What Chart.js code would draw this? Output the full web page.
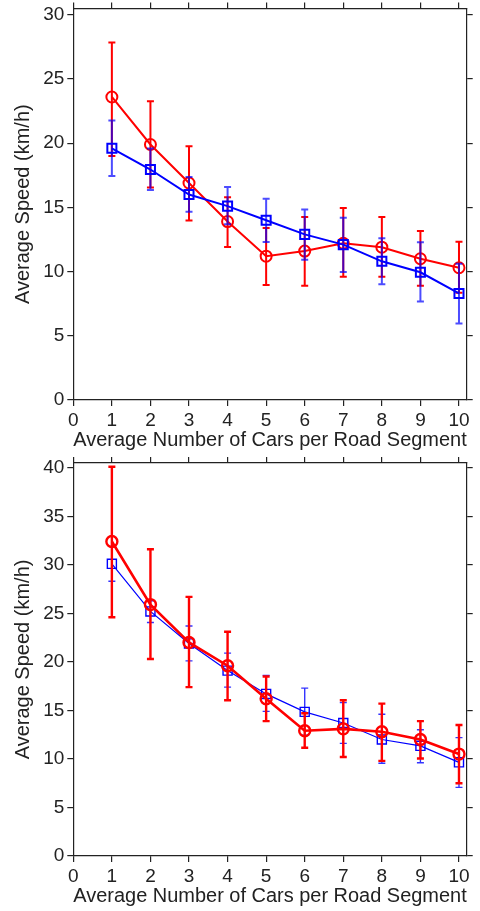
<!DOCTYPE html>
<html>
<head>
<meta charset="utf-8">
<script src="https://cdn.jsdelivr.net/npm/chart.js@4.4.1/dist/chart.umd.min.js"></script>
<style>
    body { margin: 0; background: #fff; }
    canvas { display: block; }
</style>
</head>
<body>
<canvas id="topChart" width="480" height="455"></canvas>
<canvas id="bottomChart" width="480" height="456"></canvas>
<script>
// values
const carsPerSegment = [1, 2, 3, 4, 5, 6, 7, 8, 9, 10];
const xTicks = [0, 1, 2, 3, 4, 5, 6, 7, 8, 9, 10];

// upper panel
const topRedSpeed = [23.6, 19.9, 16.9, 13.9, 11.2, 11.6, 12.2, 11.9, 11.0, 10.3];
const topRedHigh = [27.85, 23.26, 19.77, 15.8, 13.39, 14.25, 14.95, 14.25, 13.16, 12.33];
const topRedLow = [19.0, 16.55, 13.99, 11.92, 8.96, 8.89, 9.59, 9.59, 8.89, 8.35];
const topBlueSpeed = [19.6, 17.95, 16.0, 15.1, 14.0, 12.9, 12.1, 10.8, 9.95, 8.3];
const topBlueHigh = [21.76, 19.59, 17.36, 16.58, 15.67, 14.84, 14.2, 12.59, 12.28, 10.62];
const topBlueLow = [17.44, 16.35, 14.66, 13.68, 12.31, 10.93, 9.97, 9.02, 7.67, 5.96];
const topYTicks = [0, 5, 10, 15, 20, 25, 30];

// lower panel
const bottomRedSpeed = [32.4, 25.9, 22.0, 19.6, 16.2, 12.9, 13.1, 12.8, 12.0, 10.5];
const bottomRedHigh = [40.1, 31.6, 26.7, 23.1, 18.5, 14.7, 16.05, 15.7, 13.9, 13.5];
const bottomRedLow = [24.6, 20.3, 17.4, 16.05, 13.9, 11.15, 10.2, 9.8, 10.05, 7.5];
const bottomBlueSpeed = [30.1, 25.2, 21.9, 19.1, 16.7, 14.85, 13.7, 12.0, 11.35, 9.65];
const bottomBlueHigh = [31.9, 26.3, 23.7, 20.9, 18.6, 17.3, 15.8, 14.6, 13.0, 12.2];
const bottomBlueLow = [28.3, 24.05, 20.1, 17.4, 14.9, 12.45, 11.6, 9.55, 9.6, 7.07];
const bottomYTicks = [0, 5, 10, 15, 20, 25, 30, 35, 40];

const INK = "#222";
const RED = "#ff0000";
const BLUE = "#0000ff";

function points(values) {
    return carsPerSegment.map((x, i) => ({ x, y: values[i] }));
}

// draws vertical error bars with caps just before each dataset
const errorBarPlugin = {
    id: "errorBars",
    beforeDatasetDraw(chart, args) {
        const ds = chart.data.datasets[args.index];
        if (!ds.errLow) return;
        const { ctx, scales } = chart;
        const cap = 3.5;
        ctx.save();
        ctx.strokeStyle = ds.errColor;
        ctx.lineWidth = ds.errWidth;
        ds.data.forEach((pt, i) => {
            const px = scales.x.getPixelForValue(pt.x);
            const top = scales.y.getPixelForValue(ds.errHigh[i]);
            const bottom = scales.y.getPixelForValue(ds.errLow[i]);
            ctx.beginPath();
            ctx.moveTo(px, top);
            ctx.lineTo(px, bottom);
            ctx.moveTo(px - cap, top);
            ctx.lineTo(px + cap, top);
            ctx.moveTo(px - cap, bottom);
            ctx.lineTo(px + cap, bottom);
            ctx.stroke();
        });
        ctx.restore();
    },
};

function onlyTicks(list) {
    return (scale) => {
        scale.ticks = list.map((v) => ({ value: v }));
    };
}

// fixed box size, and no extra room for labels hanging past the ends
function fixSize(prop, size) {
    return (s) => {
        s[prop] = size;
        s.paddingTop = 0;
        s.paddingBottom = 0;
        s.paddingLeft = 0;
        s.paddingRight = 0;
    };
}

function frameAxis(position, extra) {
    return Object.assign(
        {
            type: "linear",
            position,
            border: { display: true, color: INK, width: 1.2 },
            grid: {
                drawOnChartArea: false,
                drawTicks: true,
                tickLength: 6,
                color: INK,
                lineWidth: 1.2,
            },
        },
        extra
    );
}

function makeChart(canvasId, yMax, yTicks, datasets) {
    const ctx = document.getElementById(canvasId).getContext("2d");
    const tickFont = { family: "Liberation Sans, Arial, sans-serif", size: 19 };
    const titleFont = { family: "Liberation Sans, Arial, sans-serif", size: 20 };

    return new Chart(ctx, {
        type: "line",
        data: { datasets },
        plugins: [errorBarPlugin],
        options: {
            responsive: false,
            animation: false,
            events: [],
            layout: { padding: { top: 7, left: 0, right: 0, bottom: 0 } },
            plugins: {
                legend: { display: false },
                tooltip: { enabled: false },
            },
            scales: {
                x: frameAxis("bottom", {
                    min: 0,
                    max: 10.2,
                    afterBuildTicks: onlyTicks(xTicks),
                    afterFit: fixSize("height", 55),
                    ticks: { color: INK, font: tickFont, padding: 3, maxRotation: 0 },
                    title: {
                        display: true,
                        text: "Average Number of Cars per Road Segment",
                        color: INK,
                        font: titleFont,
                        padding: { top: 0, bottom: 3 },
                    },
                }),
                x2: frameAxis("top", {
                    min: 0,
                    max: 10.2,
                    afterBuildTicks: onlyTicks(xTicks),
                    afterFit: fixSize("height", 0),
                    ticks: { display: false },
                }),
                y: frameAxis("left", {
                    min: 0,
                    max: yMax,
                    afterBuildTicks: onlyTicks(yTicks),
                    afterFit: fixSize("width", 73.3),
                    ticks: { color: INK, font: tickFont, padding: 3 },
                    title: {
                        display: true,
                        text: "Average Speed (km/h)",
                        color: INK,
                        font: titleFont,
                        padding: { top: 11.5, bottom: 0 },
                    },
                }),
                y2: frameAxis("right", {
                    min: 0,
                    max: yMax,
                    afterBuildTicks: onlyTicks(yTicks),
                    afterFit: fixSize("width", 13.3),
                    ticks: { display: false },
                }),
            },
        },
    });
}

function series(values, low, high, opts) {
    return Object.assign(
        {
            data: points(values),
            errLow: low,
            errHigh: high,
            fill: false,
            tension: 0,
            pointBackgroundColor: "rgba(0,0,0,0)",
            xAxisID: "x",
            yAxisID: "y",
        },
        opts
    );
}

makeChart("topChart", 30.5, topYTicks, [
    series(topBlueSpeed, topBlueLow, topBlueHigh, {
        order: 0,
        borderColor: BLUE,
        borderWidth: 2,
        pointStyle: "rect",
        pointRadius: 6.4,
        pointBorderColor: BLUE,
        pointBorderWidth: 2,
        errColor: "rgba(0,0,255,0.7)",
        errWidth: 2,
    }),
    series(topRedSpeed, topRedLow, topRedHigh, {
        order: 1,
        borderColor: RED,
        borderWidth: 2,
        pointStyle: "circle",
        pointRadius: 5.5,
        pointBorderColor: RED,
        pointBorderWidth: 2,
        errColor: RED,
        errWidth: 2,
    }),
]);

makeChart("bottomChart", 40.5, bottomYTicks, [
    series(bottomRedSpeed, bottomRedLow, bottomRedHigh, {
        order: 0,
        borderColor: RED,
        borderWidth: 2.6,
        pointStyle: "circle",
        pointRadius: 5.5,
        pointBorderColor: RED,
        pointBorderWidth: 2.4,
        errColor: RED,
        errWidth: 2.4,
    }),
    series(bottomBlueSpeed, bottomBlueLow, bottomBlueHigh, {
        order: 1,
        borderColor: BLUE,
        borderWidth: 1.2,
        pointStyle: "rect",
        pointRadius: 6.4,
        pointBorderColor: BLUE,
        pointBorderWidth: 1.4,
        errColor: "rgba(0,0,255,0.8)",
        errWidth: 1.4,
    }),
]);
</script>
</body>
</html>
